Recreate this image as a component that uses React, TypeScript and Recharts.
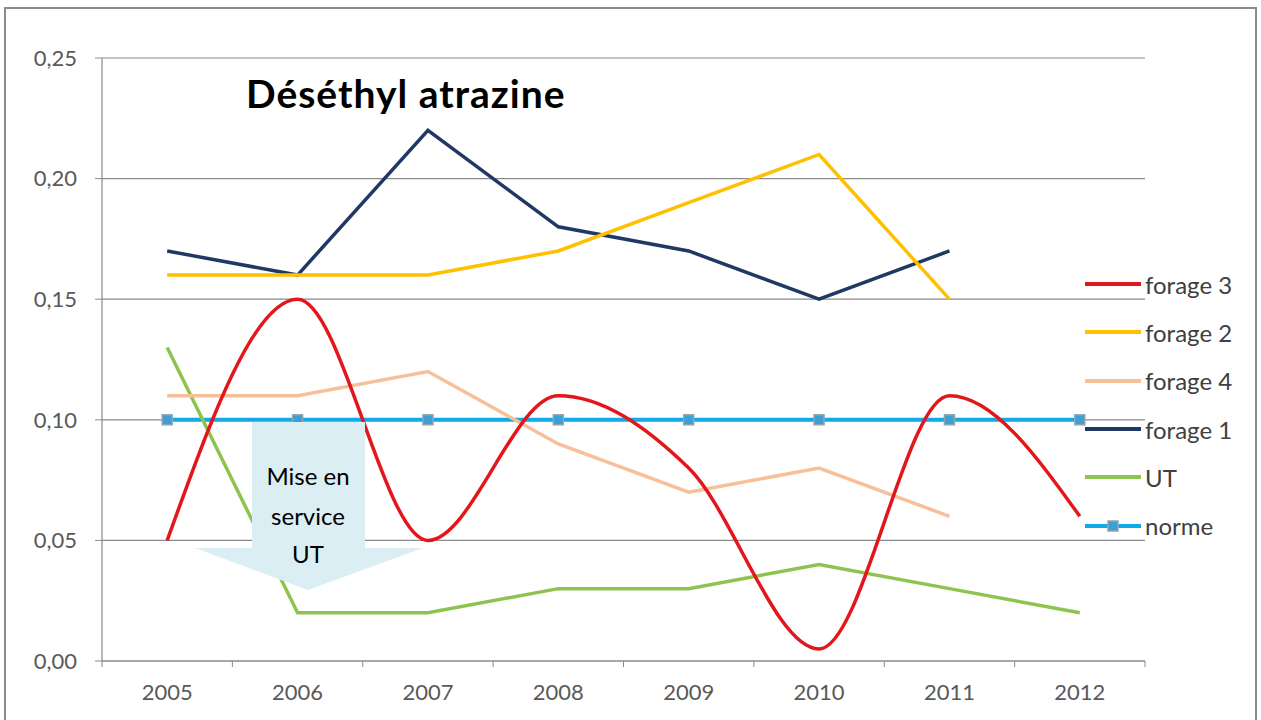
import { LineChart, Line, XAxis, YAxis, CartesianGrid } from "recharts";

const years = [2005, 2006, 2007, 2008, 2009, 2010, 2011, 2012];
const forage3 = [0.05, 0.15, 0.05, 0.11, 0.08, 0.005, 0.11, 0.06];
const forage2 = [0.16, 0.16, 0.16, 0.17, 0.19, 0.21, 0.15, null];
const forage4 = [0.11, 0.11, 0.12, 0.09, 0.07, 0.08, 0.06, null];
const forage1 = [0.17, 0.16, 0.22, 0.18, 0.17, 0.15, 0.17, null];
const ut = [0.13, 0.02, 0.02, 0.03, 0.03, 0.04, 0.03, 0.02];
const norme = [0.1, 0.1, 0.1, 0.1, 0.1, 0.1, 0.1, 0.1];
const yTicks = [0, 0.05, 0.1, 0.15, 0.2, 0.25];

const seriesInfo = [
  { key: "forage3", name: "forage 3", color: "#E3161C" },
  { key: "forage2", name: "forage 2", color: "#FFC000" },
  { key: "forage4", name: "forage 4", color: "#F8C09A" },
  { key: "forage1", name: "forage 1", color: "#1F3864" },
  { key: "ut", name: "UT", color: "#8DC450" },
  { key: "norme", name: "norme", color: "#11AAE6" },
];

const data = years.map((year, i) => ({
  year,
  forage3: forage3[i],
  forage2: forage2[i],
  forage4: forage4[i],
  forage1: forage1[i],
  ut: ut[i],
  norme: norme[i],
}));

const W = 1261;
const H = 720;
const PLOT_LEFT = 102;
const PLOT_RIGHT = 1145;
const STEP = (PLOT_RIGHT - PLOT_LEFT) / years.length;
const FONT = "Lato, 'Open Sans', sans-serif";
const AXIS_GRAY = "#8a8a8a";

const fmt = (v: number) => v.toFixed(2).replace(".", ",");

const XTick = (props: any) => {
  const { x, y, payload, index } = props;
  return (
    <g>
      <line x1={x - STEP / 2} x2={x - STEP / 2} y1={y} y2={y + 6} stroke={AXIS_GRAY} />
      {index === years.length - 1 && (
        <line x1={x + STEP / 2} x2={x + STEP / 2} y1={y} y2={y + 6} stroke={AXIS_GRAY} />
      )}
      <text x={x} y={y + 39} textAnchor="middle" fill="#595959" fontSize={22} fontFamily={FONT}>
        {payload.value}
      </text>
    </g>
  );
};

const SquareDot = (props: any) => {
  const { cx, cy, index } = props;
  if (cx == null || cy == null) return <g key={index} />;
  return (
    <rect key={index} x={cx - 5} y={cy - 5} width={10} height={10} fill="#3E9FD3" stroke="#8FA6B4" strokeWidth={1.5} />
  );
};

const ChartLegend = () => (
  <div style={{ position: "absolute", left: 1085, top: 260, fontFamily: FONT }}>
    {seriesInfo.map((s) => (
      <div key={s.key} style={{ display: "flex", alignItems: "center", height: 48.3 }}>
        <svg width={58} height={20}>
          <line x1={0} x2={56} y1={10} y2={10} stroke={s.color} strokeWidth={4} />
          {s.key === "norme" && (
            <rect x={23} y={5} width={10} height={10} fill="#3E9FD3" stroke="#8FA6B4" strokeWidth={1.5} />
          )}
        </svg>
        <span style={{ fontSize: 24, color: "#404040", marginLeft: 2 }}>{s.name}</span>
      </div>
    ))}
  </div>
);

const Callout = () => (
  <svg width={W} height={H} style={{ position: "absolute", left: 0, top: 0, pointerEvents: "none" }}>
    <polygon
      points="252,422 365,422 365,548 423,548 308,590 195,548 252,548"
      fill="#DAEEF3"
    />
    <text textAnchor="middle" fontSize={24} fontFamily={FONT} fill="#000">
      <tspan x={308} y={485}>Mise en</tspan>
      <tspan x={308} y={525}>service</tspan>
      <tspan x={308} y={563}>UT</tspan>
    </text>
  </svg>
);

export default function App() {
  return (
    <div style={{ position: "absolute", left: 0, top: 0, width: W, height: H, background: "#fff", overflow: "hidden" }}>
      <div
        style={{
          position: "absolute",
          left: 4,
          top: 7,
          width: 1253,
          height: 720,
          border: "2px solid #8c8c8c",
          boxSizing: "border-box",
        }}
      />
      <div style={{ position: "absolute", left: 0, top: 0 }}>
        <LineChart width={W} height={H} data={data} margin={{ top: 58, right: W - PLOT_RIGHT, bottom: 19, left: 0 }}>
          <CartesianGrid vertical={false} stroke={AXIS_GRAY} strokeWidth={1.2} />
          <XAxis
            dataKey="year"
            type="category"
            height={40}
            padding={{ left: STEP / 2, right: STEP / 2 }}
            axisLine={{ stroke: AXIS_GRAY, strokeWidth: 1.2 }}
            tickLine={false}
            tickSize={0}
            tickMargin={0}
            interval={0}
            tick={<XTick />}
          />
          <YAxis
            width={PLOT_LEFT}
            domain={[0, 0.25]}
            ticks={yTicks}
            tickFormatter={fmt}
            axisLine={{ stroke: AXIS_GRAY, strokeWidth: 1.2 }}
            tickLine={{ stroke: AXIS_GRAY }}
            tickSize={7}
            tickMargin={18}
            tick={{ fill: "#595959", fontSize: 22, fontFamily: FONT }}
          />
          <Line dataKey="norme" name="norme" type="linear" stroke="#11AAE6" strokeWidth={4} dot={<SquareDot />} isAnimationActive={false} />
          <Line dataKey="ut" name="UT" type="linear" stroke="#8DC450" strokeWidth={3.5} dot={false} isAnimationActive={false} />
          <Line dataKey="forage1" name="forage 1" type="linear" stroke="#1F3864" strokeWidth={3.5} dot={false} isAnimationActive={false} />
          <Line dataKey="forage4" name="forage 4" type="linear" stroke="#F8C09A" strokeWidth={3.5} dot={false} isAnimationActive={false} />
          <Line dataKey="forage2" name="forage 2" type="linear" stroke="#FFC000" strokeWidth={3.5} dot={false} isAnimationActive={false} />
          <Line dataKey="forage3" name="forage 3" type="monotone" stroke="#E3161C" strokeWidth={3.5} dot={false} isAnimationActive={false} />
          <text x={246} y={108} fontSize={39} fontWeight="bold" letterSpacing={1} fontFamily={FONT} fill="#000">
            Déséthyl atrazine
          </text>
        </LineChart>
      </div>
      <Callout />
      <ChartLegend />
    </div>
  );
}
